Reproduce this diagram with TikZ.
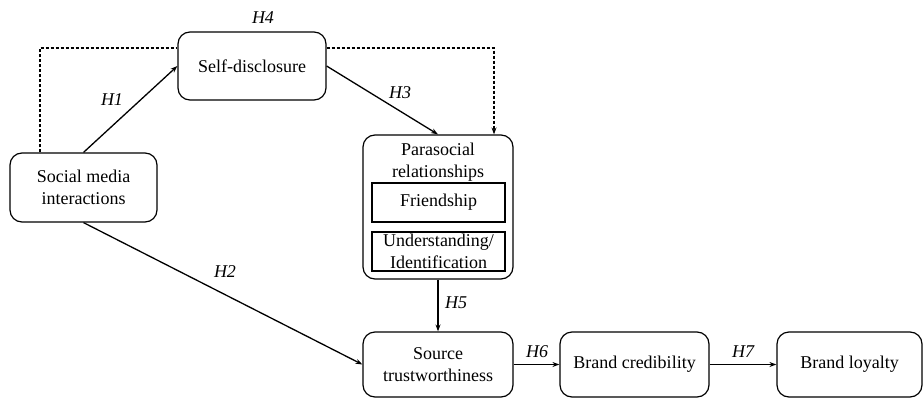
\documentclass[tikz,border=0pt]{standalone}
\usepackage{fontspec}
\setmainfont{Liberation Serif}
\usetikzlibrary{arrows.meta}
\begin{document}
\begin{tikzpicture}[x=1pt,y=-1pt,
  every node/.style={font=\fontsize{18}{22}\selectfont},
  box/.style={draw,line width=1.2pt,rounded corners=12pt,align=center,inner sep=0pt},
  inbox/.style={draw,line width=1.2pt,align=center,inner sep=0pt},
  txt/.style={align=center,inner sep=0pt},
  hyp/.style={inner sep=0pt,font=\fontsize{18}{22}\selectfont\itshape},
  conn/.style={line width=1.3pt,-{Stealth[length=7pt,width=5pt]}},
  dconn/.style={line width=1.3pt,dash pattern=on 3pt off 2pt}]
\useasboundingbox (0,0) rectangle (924,399);
\node[box,minimum width=148pt,minimum height=68pt] (sd) at (252,66) {Self-disclosure};
\node[box,minimum width=147pt,minimum height=69pt] (sm) at (83.5,187.5) {Social media\\interactions};
\node[box,minimum width=150pt,minimum height=144pt] (ps) at (438,207) {};
\node[txt] (pst) at (438,162) {Parasocial\\relationships};
\node[inbox,minimum width=133pt,minimum height=39pt] (fr) at (438.5,202.5) {Friendship};
\node[inbox,minimum width=133pt,minimum height=39pt] (un) at (438.5,251.5) {Understanding/\\Identification};
\node[box,minimum width=150pt,minimum height=65pt] (src) at (438,364.5) {Source\\trustworthiness};
\node[box,minimum width=149pt,minimum height=65pt] (bc) at (634.5,364.5) {Brand credibility};
\node[box,minimum width=145pt,minimum height=65pt] (bl) at (849.5,364.5) {Brand loyalty};
\coordinate (h4a) at (40,48);
\coordinate (h4b) at (494,48);
\draw[dconn] (sm.north -| h4a) |- (sd.west |- h4a);
\draw[dconn,-{Stealth[length=7pt,width=5pt]}] (sd.east |- h4a) -| (ps.north -| h4b);
\draw[conn] (sm.north) -- (sd.west);
\draw[conn] (sd.east) -- (ps.north);
\draw[conn] (sm.south) -- (src.west);
\draw[conn] (ps.south) -- (src.north);
\draw[conn] (src.east) -- (bc.west);
\draw[conn] (bc.east) -- (bl.west);
\node[hyp] (l4) at (263,18) {H4};
\node[hyp] (l1) at (112,100) {H1};
\node[hyp] (l3) at (400,93) {H3};
\node[hyp] (l2) at (225,272) {H2};
\node[hyp] (l5) at (456,303) {H5};
\node[hyp] (l6) at (537,352) {H6};
\node[hyp] (l7) at (743,352) {H7};
\end{tikzpicture}
\end{document}
